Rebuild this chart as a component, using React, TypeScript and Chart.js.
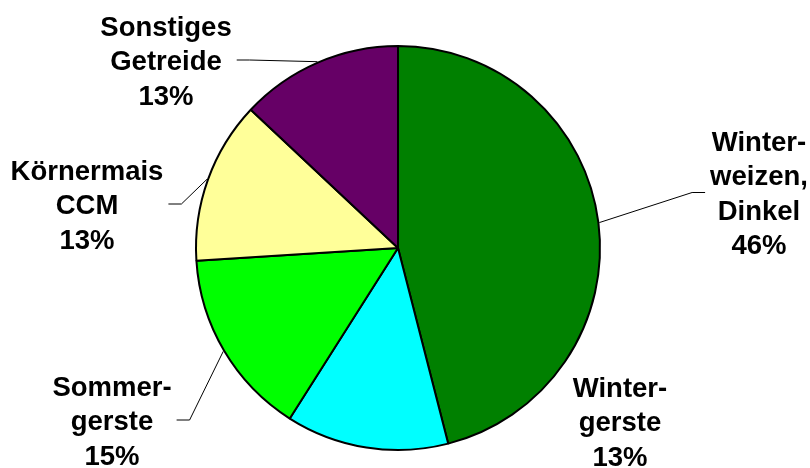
import React, { useEffect, useRef } from "react";
import { Chart, registerables } from "chart.js";

Chart.register(...registerables);

const categories: string[][] = [
  ["Winter-", "weizen,", "Dinkel"],
  ["Winter-", "gerste"],
  ["Sommer-", "gerste"],
  ["Körnermais", "CCM"],
  ["Sonstiges", "Getreide"],
];
const shares: number[] = [46, 13, 15, 13, 13];
const sliceColors: string[] = ["#008000", "#00FFFF", "#00FF00", "#FFFF99", "#660066"];

// label block placement relative to the pie centre (layout only)
const labelOffsets: { dx: number; dy: number; leader: boolean }[] = [
  { dx: 361, dy: -45.5, leader: true },
  { dx: 222, dy: 183, leader: false },
  { dx: -286, dy: 182, leader: true },
  { dx: -311, dy: -34, leader: true },
  { dx: -232, dy: -178, leader: true },
];

const FONT = "bold 27.5px 'Liberation Sans', Arial, sans-serif";
const LINE_H = 34.5;

const labelPlugin = {
  id: "pieLabels",
  afterDatasetsDraw(chart: any) {
    const ctx: CanvasRenderingContext2D = chart.ctx;
    const meta = chart.getDatasetMeta(0);
    const data: number[] = chart.data.datasets[0].data;
    const total = data.reduce((a, b) => a + b, 0);
    ctx.save();
    ctx.font = FONT;
    ctx.fillStyle = "#000";
    ctx.textAlign = "center";
    ctx.textBaseline = "alphabetic";
    meta.data.forEach((arc: any, i: number) => {
      const p = arc.getProps(["x", "y", "startAngle", "endAngle", "outerRadius"], true);
      const lines = [...categories[i], Math.round((data[i] / total) * 100) + "%"];
      const off = labelOffsets[i];
      const cx = p.x + off.dx;
      const midBase = p.y + off.dy;
      const firstBase = midBase - ((lines.length - 1) * LINE_H) / 2;
      let maxW = 0;
      lines.forEach((t, k) => {
        ctx.fillText(t, cx, firstBase + k * LINE_H);
        maxW = Math.max(maxW, ctx.measureText(t).width);
      });
      if (off.leader) {
        const mid = (p.startAngle + p.endAngle) / 2;
        const r = p.outerRadius + 1;
        const ex = p.x + Math.cos(mid) * r;
        const ey = p.y + Math.sin(mid) * r;
        const side = ex > cx ? 1 : -1;
        const sx = cx + side * (maxW / 2 + 5);
        const sy = midBase - 10;
        ctx.beginPath();
        ctx.lineWidth = 1;
        ctx.strokeStyle = "#000";
        ctx.moveTo(sx, sy);
        ctx.lineTo(sx + side * 13, sy);
        ctx.lineTo(ex, ey);
        ctx.stroke();
      }
    });
    ctx.restore();
  },
};

export default function App() {
  const ref = useRef<HTMLCanvasElement | null>(null);
  useEffect(() => {
    if (!ref.current) return;
    const chart = new Chart(ref.current, {
      type: "pie",
      data: {
        labels: categories.map((c) => c.join(" ")),
        datasets: [
          {
            data: shares,
            backgroundColor: sliceColors,
            borderColor: "#000",
            borderWidth: 2,
          },
        ],
      },
      options: {
        responsive: false,
        animation: false,
        layout: { padding: { left: 0, right: 14, top: 45, bottom: 17 } },
        plugins: {
          legend: { display: false },
          tooltip: { enabled: false },
        },
      },
      plugins: [labelPlugin],
    });
    return () => chart.destroy();
  }, []);
  return (
    <div style={{ position: "absolute", left: 0, top: 0, width: 810, height: 468, background: "#fff" }}>
      <canvas ref={ref} width={810} height={468} />
    </div>
  );
}
